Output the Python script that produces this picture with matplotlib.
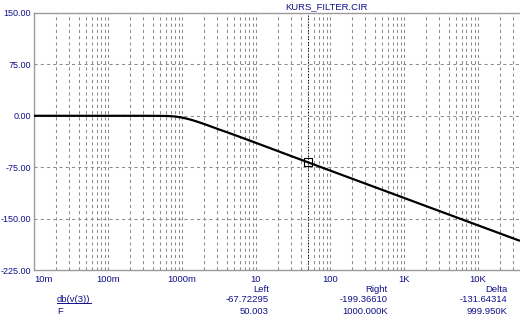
import matplotlib
matplotlib.use("Agg")
import matplotlib.pyplot as plt
from matplotlib.lines import Line2D
import numpy as np

# ---- data ----
freq_hz = [0.01, 0.03, 0.1, 0.3, 0.5, 0.65, 0.8, 1.0, 1.3, 1.6, 2.0, 3.0,
           5.0, 10.0, 20.0, 50.0, 100.0, 300.0, 1000.0, 3000.0, 10000.0, 37000.0]
gain_db = [0.0, 0.0, 0.0, 0.0, -0.1, -0.3, -1.0, -2.5, -5.5, -8.5, -12.0, -19.0,
           -27.5, -39.5, -51.7, -67.7, -79.8, -98.9, -119.8, -138.9, -159.8, -182.5]

x_ticks = [0.01, 0.1, 1.0, 10.0, 100.0, 1000.0, 10000.0]
x_tick_labels = ["10m", "100m", "1000m", "10", "100", "1K", "10K"]
y_ticks = [150, 75, 0, -75, -150, -225]
y_tick_labels = ["150.00", "75.00", "0.00", "-75.00", "-150.00", "-225.00"]
x_range = [0.01, 37000.0]
y_range = [-225, 150]

title = "KURS_FILTER.CIR"
cursor_f = 50.003
cursor_db = -67.72295
table_headers = ["Left", "Right", "Delta"]
row_db = ["db(v(3))", "-67.72295", "-199.36610", "-131.64314"]
row_f = ["F", "50.003", "1000.000K", "999.950K"]

# ---- figure ----
W, H = 520, 322
DPI = 100
fig = plt.figure(figsize=(W / DPI, H / DPI), dpi=DPI, facecolor="white")
plt.rcParams["font.family"] = ["Liberation Sans", "DejaVu Sans"]
navy = "#10108a"
gridc = "#8c8c8c"
fs = 6.8
fs_y = 6.5

left_px, right_px, top_px, bot_px = 34, 520, 13, 270
ax = fig.add_axes([left_px / W, 1 - bot_px / H, (right_px - left_px) / W, (bot_px - top_px) / H])
ax.set_xscale("log")
ax.set_xlim(*x_range)
ax.set_ylim(*y_range)

# grid lines
minor = []
for d in range(-2, 5):
    for m in range(1, 10):
        v = m * 10.0 ** d
        if x_range[0] < v < x_range[1]:
            minor.append(v)
for v in minor:
    ax.axvline(v, color=gridc, lw=0.75, ls=(0, (3, 3)), zorder=1)
for v in y_ticks:
    if y_range[0] < v < y_range[1]:
        ax.axhline(v, color=gridc, lw=0.75, ls=(0, (3, 3)), zorder=1)

# curve
ax.plot(freq_hz, gain_db, color="black", lw=1.6, zorder=3, solid_capstyle="butt")

# cursor
ax.axvline(cursor_f, color="black", lw=0.75, ls=(0, (1, 1.8)), zorder=2)
ax.plot([cursor_f], [cursor_db], marker="s", ms=6, mfc="none", mec="black", mew=0.8, zorder=4)

# axes styling
for s in ["left", "top", "bottom"]:
    ax.spines[s].set_color("#9a9a9a")
    ax.spines[s].set_linewidth(1.0)
ax.spines["right"].set_visible(False)

ax.set_yticks(y_ticks)
ax.set_yticklabels(y_tick_labels)
ax.set_xticks(x_ticks)
ax.set_xticklabels(x_tick_labels)
ax.xaxis.set_minor_locator(matplotlib.ticker.NullLocator())
ax.tick_params(axis="both", length=0, labelcolor=navy)
ax.tick_params(axis="y", pad=2.0, labelsize=fs_y)
ax.tick_params(axis="x", pad=3.5, labelsize=fs)
xl = ax.get_xticklabels()
xl[0].set_ha("left")

def px(x, y):
    return x / W, 1 - y / H

fig.text(*px(327, 6.5), title, ha="center", va="center", fontsize=fs, color=navy)

col_right = [269, 388, 507]
for xr, t in zip(col_right, table_headers):
    fig.text(*px(xr, 289), t, ha="right", va="center", fontsize=fs, color=navy)
lab = fig.text(*px(57, 300), row_db[0], ha="left", va="center", fontsize=fs, color=navy)
for xr, t in zip(col_right, row_db[1:]):
    fig.text(*px(xr, 300), t, ha="right", va="center", fontsize=fs, color=navy)
fig.text(*px(57, 311), row_f[0], ha="left", va="center", fontsize=fs, color=navy)
for xr, t in zip(col_right, row_f[1:]):
    fig.text(*px(xr, 311), t, ha="right", va="center", fontsize=fs, color=navy)

# underline for the expression label
fig.canvas.draw()
bb = lab.get_window_extent()
uy = bb.y0 + 1.5
fig.add_artist(Line2D([bb.x0 / W, bb.x1 / W], [uy / H, uy / H], color=navy, lw=0.7,
                      transform=fig.transFigure))

fig.savefig("out.png", dpi=DPI, facecolor="white")
